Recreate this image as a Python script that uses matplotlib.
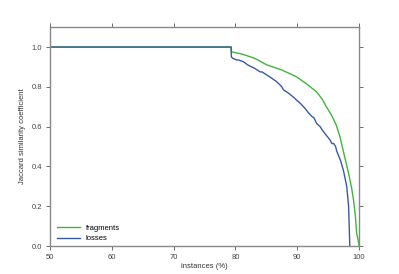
import matplotlib
matplotlib.use("Agg")
import matplotlib.pyplot as plt

plt.rcParams['font.family'] = ['Liberation Sans', 'DejaVu Sans']

frag_x = [50, 79.3, 79.35, 81.0, 83.0, 85.1, 87.5, 89.9, 91.5, 93.1, 94.0, 94.7, 95.5, 96.3, 96.9,
          97.5, 98.3, 98.8, 99.1, 99.4, 99.6, 99.85, 100]
frag_y = [1.0, 1.0, 0.976, 0.965, 0.945, 0.91, 0.885, 0.85, 0.815, 0.775, 0.74, 0.70, 0.66, 0.608, 0.55,
          0.47, 0.365, 0.29, 0.231, 0.15, 0.065, 0.03, 0.0]

loss_x = [50, 79.3, 79.35, 79.6, 80.2, 80.5, 81.3, 82.0, 82.3, 83.0, 84.0, 84.3, 85.1, 85.8, 86.1,
          86.5, 87.2, 87.5, 87.8, 88.5, 88.8, 89.5, 90.0, 90.5, 91.0, 91.3, 91.8, 92.4, 92.7, 93.1,
          93.7, 94.0, 94.6, 95.0, 95.3, 95.6, 95.9, 96.2, 96.4, 97.0, 97.5, 98.0, 98.3, 98.45, 98.5]
loss_y = [1.0, 1.0, 0.95, 0.943, 0.935, 0.935, 0.926, 0.91, 0.905, 0.895, 0.875, 0.875, 0.859, 0.845, 0.838,
          0.83, 0.81, 0.80, 0.784, 0.77, 0.763, 0.745, 0.73, 0.717, 0.70, 0.69, 0.67, 0.65, 0.645, 0.617,
          0.60, 0.585, 0.56, 0.545, 0.533, 0.515, 0.515, 0.50, 0.475, 0.43, 0.375, 0.30, 0.20, 0.05, 0.0]

fig = plt.figure(figsize=(3.99, 2.74), dpi=100)
ax = fig.add_axes([0.125, 0.102, 0.775, 0.799])

ax.plot(frag_x, frag_y, color="#44b33c", lw=1.0, label="fragments")
ax.plot(loss_x, loss_y, color="#3a5a9f", lw=1.0, label="losses")

ax.set_xlim(50, 100)
ax.set_ylim(0, 1.1)
ax.set_xticks([50, 60, 70, 80, 90, 100])
ax.set_yticks([0.0, 0.2, 0.4, 0.6, 0.8, 1.0])
ax.set_xlabel("instances (%)", fontsize=5.5, color="#333333", labelpad=2)
ax.set_ylabel("Jaccard similarity coefficient", fontsize=5.5, color="#333333", labelpad=4)

for s in ax.spines.values():
    s.set_color("#888888")
    s.set_linewidth(1.0)
ax.tick_params(direction="out", length=3, width=0.6, colors="#555555", labelsize=5.5,
               top=True, right=True, labelcolor="#444444", pad=2.5)

ax.legend(loc="lower left", frameon=False, fontsize=5.5, handlelength=3, labelspacing=0.4,
          bbox_to_anchor=(0.0, -0.015))

fig.savefig("out.png", dpi=100)
